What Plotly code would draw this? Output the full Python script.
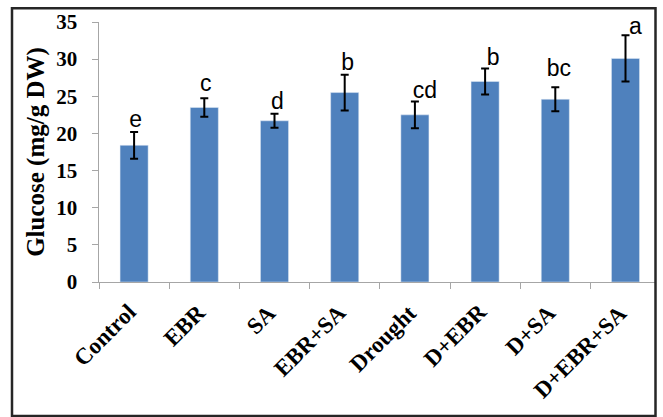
import plotly.graph_objects as go

# Treatments and measured glucose content (mean ± SE)
treatments = ["Control", "EBR", "SA", "EBR+SA", "Drought", "D+EBR", "D+SA", "D+EBR+SA"]
glucose = [18.4, 23.5, 21.7, 25.5, 22.5, 27.0, 24.6, 30.1]
glucose_err = [1.8, 1.25, 0.95, 2.4, 1.8, 1.75, 1.6, 3.1]
groups = ["e", "c", "d", "b", "cd", "b", "bc", "a"]
y_ticks = [0, 5, 10, 15, 20, 25, 30, 35]

# Pixel nudges for the significance letters (x, y above the error cap)
letter_dx = [1.5, 1.5, 3, 3, 10, 8, 3.5, 10]
letter_dy = [4.5, 7.5, 4.5, 4.5, 3.5, 3.5, 11, 1]

W, H = 663, 417
L, R, T, B = 99, 7, 22, 135
plot_w = W - L - R
plot_h = H - T - B
cat_px = 70.2
unit_px = plot_h / 35
x_end = -0.5 + plot_w / cat_px

BAR = "#4f81bd"
AXIS = "#a6a6a6"
SERIF = "Liberation Serif"
SANS = "Liberation Sans"
LETTER_SIZE = 23

fig = go.Figure()
fig.add_trace(go.Bar(
    x=list(range(len(treatments))), y=glucose,
    marker_color=BAR,
    error_y=dict(type="data", array=glucose_err, color="black"),
    width=0.4, showlegend=False,
))

# significance letters above each error bar
fig.add_trace(go.Scatter(
    x=[i + dx / cat_px for i, dx in enumerate(letter_dx)],
    y=[m + e + (dy - 0.25 * LETTER_SIZE) / unit_px
       for m, e, dy in zip(glucose, glucose_err, letter_dy)],
    text=groups, mode="text", textposition="top center",
    textfont=dict(family=SANS, size=LETTER_SIZE, color="black"),
    cliponaxis=False, showlegend=False, hoverinfo="skip",
))

# Slanted category labels below the axis
annotations = []
for i, name in enumerate(treatments):
    annotations.append(dict(
        x=i, y=-15 / plot_h, xref="x", yref="paper", text=f"<b>{name}</b>",
        textangle=-45, showarrow=False, xanchor="right", yanchor="top",
        xshift=9,
        font=dict(family=SERIF, size=23, color="black"),
    ))

frame = dict(
    type="rect", xref="paper", yref="paper", layer="above",
    x0=(12 - L) / plot_w, x1=(655.5 - L) / plot_w,
    y0=(H - B - 416) / plot_h, y1=(H - B - 8.3) / plot_h,
    line=dict(color="#262626", width=2.5), fillcolor="rgba(0,0,0,0)",
)

fig.update_layout(
    width=W, height=H,
    margin=dict(l=L, r=R, t=T, b=B),
    plot_bgcolor="white",
    annotations=annotations,
    shapes=[frame],
    xaxis=dict(
        range=[-0.5, x_end],
        tickmode="array", tickvals=[k - 0.5 for k in range(len(treatments))],
        showticklabels=False,
        showline=True, linecolor=AXIS,
        ticks="outside", ticklen=6, tickcolor=AXIS,
        showgrid=False, zeroline=False,
    ),
    yaxis=dict(
        range=[0, 35], tickmode="array", tickvals=y_ticks,
        ticktext=[f"<b>{v}</b>\u00a0\u00a0" for v in y_ticks],
        tickfont=dict(family=SERIF, size=21, color="black"),
        showline=True, linecolor=AXIS,
        ticks="outside", ticklen=6, tickcolor=AXIS,
        showgrid=False, zeroline=False,
        title=dict(text="<b>Glucose (mg/g DW)</b>", standoff=4,
                   font=dict(family=SERIF, size=25, color="black")),
    ),
)

fig.write_html("out.html")
